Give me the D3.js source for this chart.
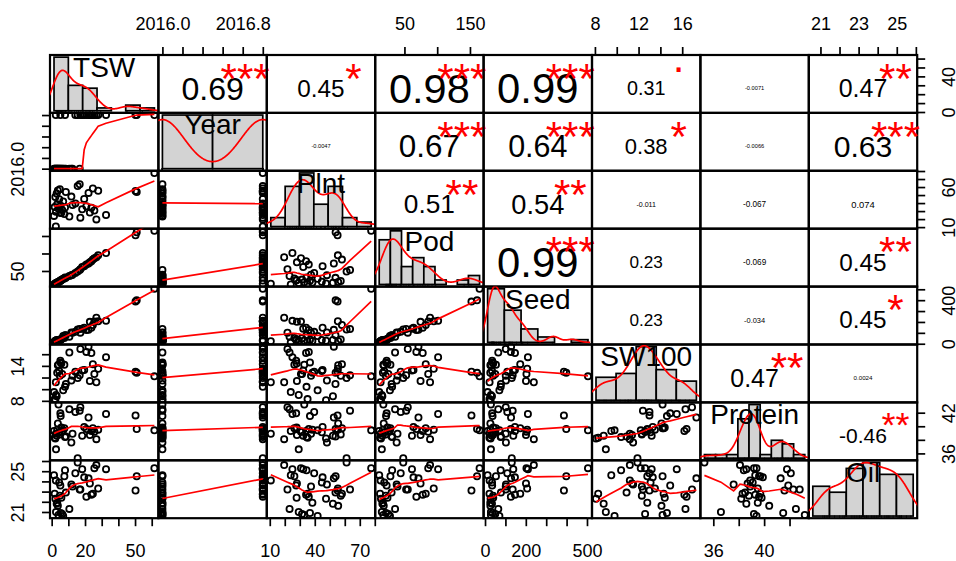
<!DOCTYPE html>
<html><head><meta charset="utf-8">
<script src="https://cdn.jsdelivr.net/npm/d3@7"></script>
<style>body{margin:0;background:#fff}svg{display:block}</style>
</head><body>
<svg id="chart" width="956" height="561"></svg>
<script>
// ---------------- data (one row per observation) ----------------
const varNames = ["TSW","Year","Plnt","Pod","Seed","SW100","Protein","Oil"];
const Year = [2016,2016,2016,2016,2016,2016,2016,2016,2016,2016,2016,2016,2016,2016,2016,2016,2016,2016,2016,2016,
              2017,2017,2017,2017,2017,2017,2017,2017,2017,2017,2017,2017,2017,2017,2017,2017,2017,2017,2017,2017];
const TSW = [1.4,1.8,2.2,2.6,3.0,3.3,3.7,4.1,4.5,4.9,5.4,5.8,6.3,6.9,7.6,8.5,10.6,11.8,12.5,16.8,
             2.5,5.2,8.0,14.2,15.6,17.2,18.3,19.5,20.8,22.1,22.9,23.8,24.7,25.6,26.8,27.9,32.6,50.3,51.0,61.6];
const Plnt = [24.0,35.2,47.5,29.3,52.1,38.4,55.6,33.0,44.7,57.3,36.8,27.9,31.5,41.9,26.4,53.8,23.2,48.1,37.5,63.5,
              10.7,27.6,34.5,39.6,61.2,21.8,32.3,45.2,36.0,52.7,28.1,34.2,58.1,30.8,19.6,55.4,25.1,55.2,53.9,77.6];
const Pod = [11.5,12.8,14.2,15.5,16.3,17.1,18.4,17.8,19.2,21.5,21.9,24.1,25.4,27.9,28.6,30.4,35.7,38.1,39.4,52.6,
             13.6,22.8,31.2,44.3,48.2,55.1,61.5,63.8,68.2,71.4,74.6,77.9,82.5,86.3,89.1,94.7,101.4,152.3,160.8,164.7];
const Seed = [12.7,21.7,27.2,28.9,34.1,25.8,26.2,28.9,34.4,39.8,37.0,40.3,50.0,70.4,53.5,78.0,65.0,102.6,101.6,135.5,
              22.3,34.9,76.9,109.2,131.1,101.8,138.6,146.6,126.8,127.7,200.9,146.9,172.7,203.2,239.3,206.7,210.3,386.9,398.4,504.9];
const SW100 = [9.5,8.3,8.1,9.0,8.8,12.8,14.1,14.2,13.1,12.3,14.6,14.4,12.6,9.8,14.2,10.9,16.3,11.5,12.3,12.4,
               11.2,14.9,10.4,13.0,11.9,16.9,13.2,13.3,16.4,17.3,11.4,16.2,14.3,12.6,11.2,13.5,15.5,13.0,12.8,12.2];
const Protein = [39.3,38.3,38.2,36.6,38.6,39.5,40.4,43.2,39.1,38.8,41.5,39.8,39.2,39.4,39.7,38.5,42.5,37.6,38.9,42.3,
                 38.9,41.9,38.4,42.1,35.3,42.8,38.6,39.9,39.6,41.3,38.7,39.3,39.7,39.2,38.1,39.5,41.8,41.6,39.6,39.4];
const Oil = [24.6,22.8,22.3,21.0,21.8,21.9,21.6,20.7,23.9,22.6,20.9,22.4,20.8,20.6,24.5,22.9,21.3,23.7,23.5,23.2,
             24.1,23.6,25.1,24.8,25.86,23.2,25.2,24.4,22.5,24.3,23.8,22.7,22.8,25.3,25.6,23.3,25.2,23.1,24.5,25.3];

// correlation texts and significance symbols (upper triangle, row by row)
const corText = ["0.69","0.45","0.98","0.99","0.31","-0.0071","0.47",
                 "-0.0047","0.67","0.64","0.38","-0.0066","0.63",
                 "0.51","0.54","-0.011","-0.067","0.074",
                 "0.99","0.23","-0.069","0.45",
                 "0.23","-0.034","0.45",
                 "0.47","0.0024",
                 "-0.46"];
const corStars = ["***","*","***","***",".","","**",
                  "","***","***","*","","***",
                  "**","**","","","",
                  "***","","","**",
                  "","","*",
                  "**","",
                  "**"];

// histogram breaks
const brTSW = [0,10,20,30,40,50,60,70];
const brYear = [2016,2016.5,2017];
const brPlnt = [10,20,30,40,50,60,70,80];
const brPod = [0,20,40,60,80,100,120,140,160,180];
const brSeed = [0,100,200,300,400,500,600];
const brSW100 = [8,10,12,14,16,18];
const brProtein = [35,36,37,38,39,40,41,42,43,44];
const brOil = [20,21,22,23,24,25,26];

// axis ticks and the tick labels that are printed
const tickTSW = [0,10,20,30,40,50,60];
const tickYear = [2016.0,2016.2,2016.4,2016.6,2016.8,2017.0];
const tickPlnt = [10,20,30,40,50,60,70,80];
const tickPod = [50,100,150];
const tickSeed = [0,100,200,300,400,500];
const tickSW100 = [8,10,12,14,16];
const tickProtein = [36,38,40,42];
const tickOil = [21,22,23,24,25,26];
const labTSWBottom = [0,20,50], labTSWRight = [0,40];
const labYearTop = [2016.0,2016.8], labYearLeft = [2016.0];
const labPlntBottom = [10,40,70], labPlntRight = [10,60];
const labPodTop = [50,150], labPodLeft = [50];
const labSeedBottom = [0,200,500], labSeedRight = [0,400];
const labSW100Top = [8,12,16], labSW100Left = [8,14];
const labProteinBottom = [36,40], labProteinRight = [36,42];
const labOilTop = [21,23,25], labOilLeft = [21,25];

// ---------------- layout ----------------
const data = [TSW,Year,Plnt,Pod,Seed,SW100,Protein,Oil];
const breaks = [brTSW,brYear,brPlnt,brPod,brSeed,brSW100,brProtein,brOil];
const ticks = [tickTSW,tickYear,tickPlnt,tickPod,tickSeed,tickSW100,tickProtein,tickOil];
const NV = data.length;
const X0 = 50, Y0 = 55, W = 108.4, H = 57.9;
const FONT = '"Liberation Sans", Arial, Helvetica, sans-serif';
const LW = 1.7;

const svg = d3.select("#chart").attr("font-family", FONT);
const defs = svg.append("defs");
const ctx = document.createElement("canvas").getContext("2d");
function ink(txt, fs) {
  ctx.font = "100px " + FONT;
  const m = ctx.measureText(txt);
  const k = fs / 100;
  return {asc: m.actualBoundingBoxAscent * k, desc: m.actualBoundingBoxDescent * k, w: m.width * k};
}
function pad(e) { const r = e[1] - e[0]; return [e[0] - 0.04 * r, e[1] + 0.04 * r]; }
const xs = data.map((a, j) => d3.scaleLinear().domain(pad(d3.extent(a))).range([X0 + j * W, X0 + (j + 1) * W]));
const ys = data.map((a, i) => d3.scaleLinear().domain(pad(d3.extent(a))).range([Y0 + (i + 1) * H, Y0 + i * H]));

// ---------------- helpers ----------------
function bwNrd0(v) {
  const hi = d3.deviation(v);
  const iqr = d3.quantile(v, 0.75) - d3.quantile(v, 0.25);
  let lo = Math.min(hi, iqr / 1.34);
  if (!(lo > 0)) lo = hi || Math.abs(v[0]) || 1;
  return 0.9 * lo * Math.pow(v.length, -0.2);
}
function lowess(xIn, yIn, f = 2 / 3, iter = 3) {
  const n = xIn.length;
  const order = d3.range(n).sort((a, b) => (xIn[a] - xIn[b]) || (a - b));
  const x = order.map(k => xIn[k]), y = order.map(k => yIn[k]);
  const delta = 0.01 * (x[n - 1] - x[0]);
  const ns = Math.max(2, Math.min(n, Math.floor(f * n + 1e-7)));
  const ysm = new Array(n).fill(0), rw = new Array(n).fill(1), res = new Array(n).fill(0), w = new Array(n).fill(0);
  function lowest(xv, nleft, nright, userw) {
    const range = x[n - 1] - x[0];
    const h = Math.max(xv - x[nleft], x[nright] - xv);
    const h9 = 0.999 * h, h1 = 0.001 * h;
    let a = 0, j = nleft;
    while (j < n) {
      w[j] = 0;
      const r = Math.abs(x[j] - xv);
      if (r <= h9) {
        w[j] = r <= h1 ? 1 : Math.pow(1 - Math.pow(r / h, 3), 3);
        if (userw) w[j] *= rw[j];
        a += w[j];
      } else if (x[j] > xv) break;
      j++;
    }
    const nrt = j - 1;
    if (a <= 0) return null;
    for (j = nleft; j <= nrt; j++) w[j] /= a;
    if (h > 0) {
      a = 0;
      for (j = nleft; j <= nrt; j++) a += w[j] * x[j];
      let b = xv - a, c = 0;
      for (j = nleft; j <= nrt; j++) c += w[j] * (x[j] - a) * (x[j] - a);
      if (Math.sqrt(c) > 0.001 * range) {
        b /= c;
        for (j = nleft; j <= nrt; j++) w[j] *= (b * (x[j] - a) + 1);
      }
    }
    let out = 0;
    for (j = nleft; j <= nrt; j++) out += w[j] * y[j];
    return out;
  }
  for (let it = 1; it <= iter + 1; it++) {
    let nleft = 0, nright = ns - 1, last = -1, i = 0;
    for (;;) {
      if (nright < n - 1) {
        const d1 = x[i] - x[nleft], d2 = x[nright + 1] - x[i];
        if (d1 > d2) { nleft++; nright++; continue; }
      }
      const v = lowest(x[i], nleft, nright, it > 1);
      ysm[i] = v === null ? y[i] : v;
      if (last < i - 1) {
        const denom = x[i] - x[last];
        for (let j = last + 1; j < i; j++) {
          const alpha = (x[j] - x[last]) / denom;
          ysm[j] = alpha * ysm[i] + (1 - alpha) * ysm[last];
        }
      }
      last = i;
      const cut = x[last] + delta;
      for (i = last + 1; i < n; i++) {
        if (x[i] > cut) break;
        if (x[i] === x[last]) { ysm[i] = ysm[last]; last = i; }
      }
      i = Math.max(last + 1, i - 1);
      if (last >= n - 1) break;
    }
    for (let k = 0; k < n; k++) res[k] = y[k] - ysm[k];
    if (it > iter) break;
    const sc = d3.sum(res, Math.abs) / n;
    const ar = res.map(Math.abs).sort((a, b) => a - b);
    const m1 = Math.floor(n / 2);
    const cmad = n % 2 === 0 ? 3 * (ar[m1] + ar[m1 - 1]) : 6 * ar[m1];
    if (cmad < 1e-7 * sc) break;
    const c9 = 0.999 * cmad, c1 = 0.001 * cmad;
    for (let k = 0; k < n; k++) {
      const r = Math.abs(res[k]);
      rw[k] = r <= c1 ? 1 : (r <= c9 ? Math.pow(1 - Math.pow(r / cmad, 2), 2) : 0);
    }
  }
  return x.map((v, k) => [v, ysm[k]]);
}
function inkText(g, txt, cx, cyInk, fs, color) {
  const m = ink(txt, fs);
  g.append("text").attr("x", cx).attr("y", cyInk + (m.asc - m.desc) / 2)
    .attr("text-anchor", "middle").attr("font-size", fs).attr("fill", color).text(txt);
}

// ---------------- panels ----------------
let uk = 0;
for (let i = 0; i < NV; i++) {
  for (let j = 0; j < NV; j++) {
    const px = X0 + j * W, py = Y0 + i * H;
    const id = `clip-${i}-${j}`;
    defs.append("clipPath").attr("id", id).append("rect").attr("x", px).attr("y", py).attr("width", W).attr("height", H);
    const g = svg.append("g");
    g.append("rect").attr("x", px).attr("y", py).attr("width", W).attr("height", H)
      .attr("fill", "none").attr("stroke", "#000").attr("stroke-width", 2.2);
    const cg = g.append("g").attr("clip-path", `url(#${id})`);
    if (i === j) {
      // histogram (new plot window)
      const v = data[i], br = breaks[i], nb = br.length - 1;
      const counts = new Array(nb).fill(0);
      v.forEach(val => { let k = d3.bisectLeft(br, val) - 1; k = Math.max(0, Math.min(nb - 1, k)); counts[k]++; });
      const dens = counts.map((c, k) => c / (v.length * (br[k + 1] - br[k])));
      const hx = d3.scaleLinear().domain(pad([br[0], br[nb]])).range([px, px + W]);
      const hy = d3.scaleLinear().domain(pad([0, d3.max(dens)])).range([py + H, py]);
      cg.selectAll("rect.bar").data(dens).enter().append("rect")
        .attr("x", (d, k) => hx(br[k])).attr("width", (d, k) => hx(br[k + 1]) - hx(br[k]))
        .attr("y", d => hy(d)).attr("height", d => hy(0) - hy(d))
        .attr("fill", "#D3D3D3").attr("stroke", "#000").attr("stroke-width", LW);
      const bw = bwNrd0(v);
      const lo = d3.min(v) - 3 * bw, hi = d3.max(v) + 3 * bw;
      const grid = d3.range(512).map(k => lo + (hi - lo) * k / 511);
      const kde = grid.map(x => [x, d3.mean(v, s => Math.exp(-0.5 * ((x - s) / bw) ** 2) / Math.sqrt(2 * Math.PI)) / bw]);
      cg.append("path").datum(kde).attr("d", d3.line().x(d => hx(d[0])).y(d => hy(d[1])))
        .attr("fill", "none").attr("stroke", "#FF0000").attr("stroke-width", LW);
      cg.selectAll("line.rug").data(v).enter().append("line")
        .attr("x1", d => hx(d)).attr("x2", d => hx(d)).attr("y1", py + H).attr("y2", py + H - 0.03 * H - 1)
        .attr("stroke", "#000").attr("stroke-width", 0.8);
      inkText(g, varNames[i], px + W / 2, py + H * (1 - 0.8333) + 2.3, 28, "#000");
    } else if (i > j) {
      const pts = data[j].map((d, k) => [d, data[i][k]]);
      cg.selectAll("circle").data(pts).enter().append("circle")
        .attr("cx", d => xs[j](d[0])).attr("cy", d => ys[i](d[1])).attr("r", 3.1)
        .attr("fill", "none").attr("stroke", "#000").attr("stroke-width", 1.8);
      const lw = lowess(data[j], data[i]);
      cg.append("path").datum(lw).attr("d", d3.line().x(d => xs[j](d[0])).y(d => ys[i](d[1])))
        .attr("fill", "none").attr("stroke", "#FF0000").attr("stroke-width", LW);
    } else {
      const txt = corText[uk], sig = corStars[uk];
      uk++;
      const r = Math.abs(parseFloat(txt));
      const cexFs = 82 / ink(txt, 1).w;
      const fs = cexFs * (r + 0.3) / 1.3;
      inkText(g, txt, px + W / 2, py + H / 2 + 4.5, fs, "#000");
      if (sig) inkText(g, sig, px + 0.8 * W, py + 0.2 * H + (sig === "." ? 3 : 4.7), cexFs, "#FF0000");
    }
  }
}

// ---------------- axes ----------------
const axisSpec = [
  {side: "bottom", v: 0, labs: labTSWBottom}, {side: "right", v: 0, labs: labTSWRight},
  {side: "top", v: 1, labs: labYearTop}, {side: "left", v: 1, labs: labYearLeft},
  {side: "bottom", v: 2, labs: labPlntBottom}, {side: "right", v: 2, labs: labPlntRight},
  {side: "top", v: 3, labs: labPodTop}, {side: "left", v: 3, labs: labPodLeft},
  {side: "bottom", v: 4, labs: labSeedBottom}, {side: "right", v: 4, labs: labSeedRight},
  {side: "top", v: 5, labs: labSW100Top}, {side: "left", v: 5, labs: labSW100Left},
  {side: "bottom", v: 6, labs: labProteinBottom}, {side: "right", v: 6, labs: labProteinRight},
  {side: "top", v: 7, labs: labOilTop}, {side: "left", v: 7, labs: labOilLeft}
];
const fmtYear = d3.format(".1f");
axisSpec.forEach(s => {
  const v = s.v, tv = ticks[v];
  const fmt = d => s.labs.some(l => Math.abs(l - d) < 1e-9) ? (v === 1 ? fmtYear(d) : String(d)) : "";
  const horiz = s.side === "top" || s.side === "bottom";
  const sc = horiz ? xs[v] : ys[v];
  const gen = {top: d3.axisTop, bottom: d3.axisBottom, left: d3.axisLeft, right: d3.axisRight}[s.side](sc)
    .tickValues(tv).tickSize(8).tickSizeOuter(0).tickFormat(fmt);
  const pos = {top: [0, Y0], bottom: [0, Y0 + NV * H], left: [X0, 0], right: [X0 + NV * W, 0]}[s.side];
  const ag = svg.append("g").attr("transform", `translate(${pos[0]},${pos[1]})`).call(gen);
  ag.attr("font-family", FONT).attr("font-size", 18);
  ag.select(".domain").remove();
  ag.selectAll(".tick line").attr("stroke", "#000").attr("stroke-width", LW);
  const a0 = sc(tv[0]), a1 = sc(tv[tv.length - 1]);
  if (horiz) ag.append("line").attr("x1", a0).attr("x2", a1).attr("y1", 0).attr("y2", 0).attr("stroke", "#000").attr("stroke-width", LW);
  else ag.append("line").attr("y1", a0).attr("y2", a1).attr("x1", 0).attr("x2", 0).attr("stroke", "#000").attr("stroke-width", LW);
  const t = ag.selectAll(".tick text").attr("fill", "#000");
  if (s.side === "top") t.attr("y", -31).attr("dy", "0.358em");
  else if (s.side === "bottom") t.attr("y", 32).attr("dy", "0.358em");
  else {
    const off = s.side === "left" ? -32 : 31;
    t.attr("x", 0).attr("y", 0).attr("dy", "0.358em").attr("text-anchor", "middle")
      .attr("transform", `translate(${off},0) rotate(-90)`);
  }
});
</script>
</body></html>
